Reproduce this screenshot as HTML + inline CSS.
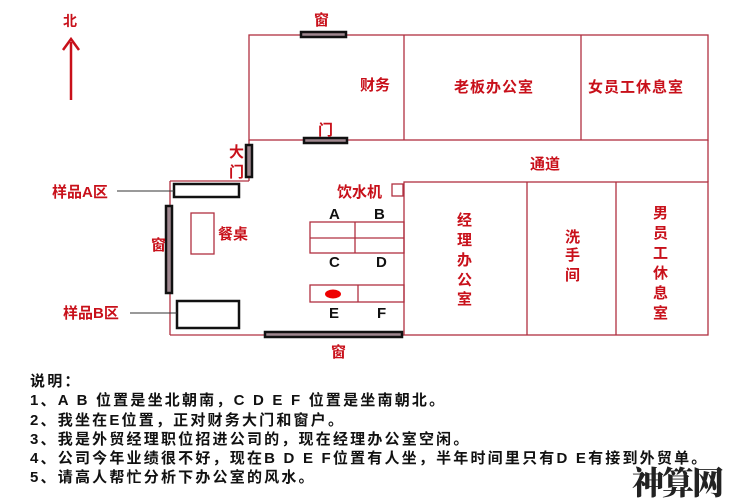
<!DOCTYPE html>
<html><head><meta charset="utf-8"><style>
body{margin:0;background:#fff;width:737px;height:500px;overflow:hidden}
svg text{font-family:"Liberation Sans","Noto Sans CJK SC",sans-serif;font-weight:bold}
.r{fill:#c8101a;font-size:15px}
.k{fill:#111;font-size:15px}
.n{font-family:"Liberation Sans","Noto Sans CJK SC",sans-serif;font-size:15px;letter-spacing:2.2px;font-weight:bold;color:#111;position:absolute;left:30px;line-height:19.3px;white-space:nowrap}
</style></head><body>
<svg width="737" height="500" style="position:absolute;left:0;top:0">
<g stroke="#b03040" stroke-width="1.3" fill="none">
<rect x="249" y="35" width="459" height="105"/>
<line x1="404" y1="35" x2="404" y2="140"/>
<line x1="581" y1="35" x2="581" y2="140"/>
<line x1="708" y1="140" x2="708" y2="182"/>
<rect x="404" y="182" width="304" height="153"/>
<line x1="527" y1="182" x2="527" y2="335"/>
<line x1="616" y1="182" x2="616" y2="335"/>
<line x1="249" y1="140" x2="249" y2="181"/>
<line x1="170" y1="181" x2="249" y2="181"/>
<line x1="170" y1="181" x2="170" y2="335"/>
<line x1="170" y1="335" x2="404" y2="335"/>
<rect x="191" y="213" width="23" height="41"/>
<rect x="310" y="222" width="94" height="31"/>
<line x1="355" y1="222" x2="355" y2="253"/>
<line x1="310" y1="238" x2="404" y2="238"/>
<rect x="310" y="285" width="94" height="17"/>
<line x1="358" y1="285" x2="358" y2="302"/>
<rect x="392" y="184" width="11" height="12"/>
</g>
<g stroke="#111" stroke-width="2.5" fill="#a08890">
<rect x="301" y="32" width="45" height="5"/>
<rect x="304" y="138" width="43" height="5"/>
<rect x="246" y="145" width="6" height="32"/>
<rect x="166" y="206" width="6" height="87"/>
<rect x="265" y="332" width="137" height="5"/>
</g>
<g stroke="#111" stroke-width="2.5" fill="#fff">
<rect x="174" y="184" width="65" height="13"/>
<rect x="177" y="301" width="62" height="27"/>
</g>
<g stroke="#333" stroke-width="1">
<line x1="117" y1="191" x2="174" y2="191"/>
<line x1="130" y1="313" x2="177" y2="313"/>
</g>
<ellipse cx="333" cy="294" rx="8" ry="4.5" fill="#e00"/>
<line x1="71" y1="42" x2="71" y2="100" stroke="#c8101a" stroke-width="2.5"/>
<polyline points="63,50 71,39 79,50" stroke="#c8101a" stroke-width="2.5" fill="none"/>
<text class="r" x="63" y="26" style="font-size:14px">北</text>
<text class="r" x="314" y="25">窗</text>
<text class="r" x="318" y="135">门</text>
<text class="r" x="360" y="90">财务</text>
<text class="r" x="454" y="92" style="letter-spacing:1px">老板办公室</text>
<text class="r" x="588" y="92" style="letter-spacing:1px">女员工休息室</text>
<text class="r" x="530" y="169">通道</text>
<text class="r" x="229" y="157">大</text>
<text class="r" x="229" y="177">门</text>
<text class="r" x="52" y="197">样品A区</text>
<text class="r" x="63" y="318">样品B区</text>
<text class="r" x="151" y="250">窗</text>
<text class="r" x="218" y="239">餐桌</text>
<text class="r" x="337" y="197">饮水机</text>
<text class="r" x="331" y="357">窗</text>
<text class="k" x="329" y="219">A</text>
<text class="k" x="374" y="219">B</text>
<text class="k" x="329" y="267">C</text>
<text class="k" x="376" y="267">D</text>
<text class="k" x="329" y="318">E</text>
<text class="k" x="377" y="318">F</text>
<text class="r" x="457" y="225">经</text><text class="r" x="457" y="245">理</text><text class="r" x="457" y="265">办</text><text class="r" x="457" y="285">公</text><text class="r" x="457" y="304">室</text>
<text class="r" x="565" y="242">洗</text><text class="r" x="565" y="260">手</text><text class="r" x="565" y="280">间</text>
<text class="r" x="653" y="218">男</text><text class="r" x="653" y="238">员</text><text class="r" x="653" y="258">工</text><text class="r" x="653" y="278">休</text><text class="r" x="653" y="298">息</text><text class="r" x="653" y="318">室</text>
</svg>
<div class="n" style="top:372px">说明：<br>1、A B 位置是坐北朝南，C D E F 位置是坐南朝北。<br>2、我坐在E位置，正对财务大门和窗户。<br>3、我是外贸经理职位招进公司的，现在经理办公室空闲。<br>4、公司今年业绩很不好，现在B D E F位置有人坐，半年时间里只有D E有接到外贸单。<br>5、请高人帮忙分析下办公室的风水。</div>
<div style="position:absolute;left:632px;top:458px;font-family:'Noto Serif CJK SC',serif;font-weight:900;font-size:32px;color:#222;letter-spacing:-2px;white-space:nowrap">神算网</div>
</body></html>
